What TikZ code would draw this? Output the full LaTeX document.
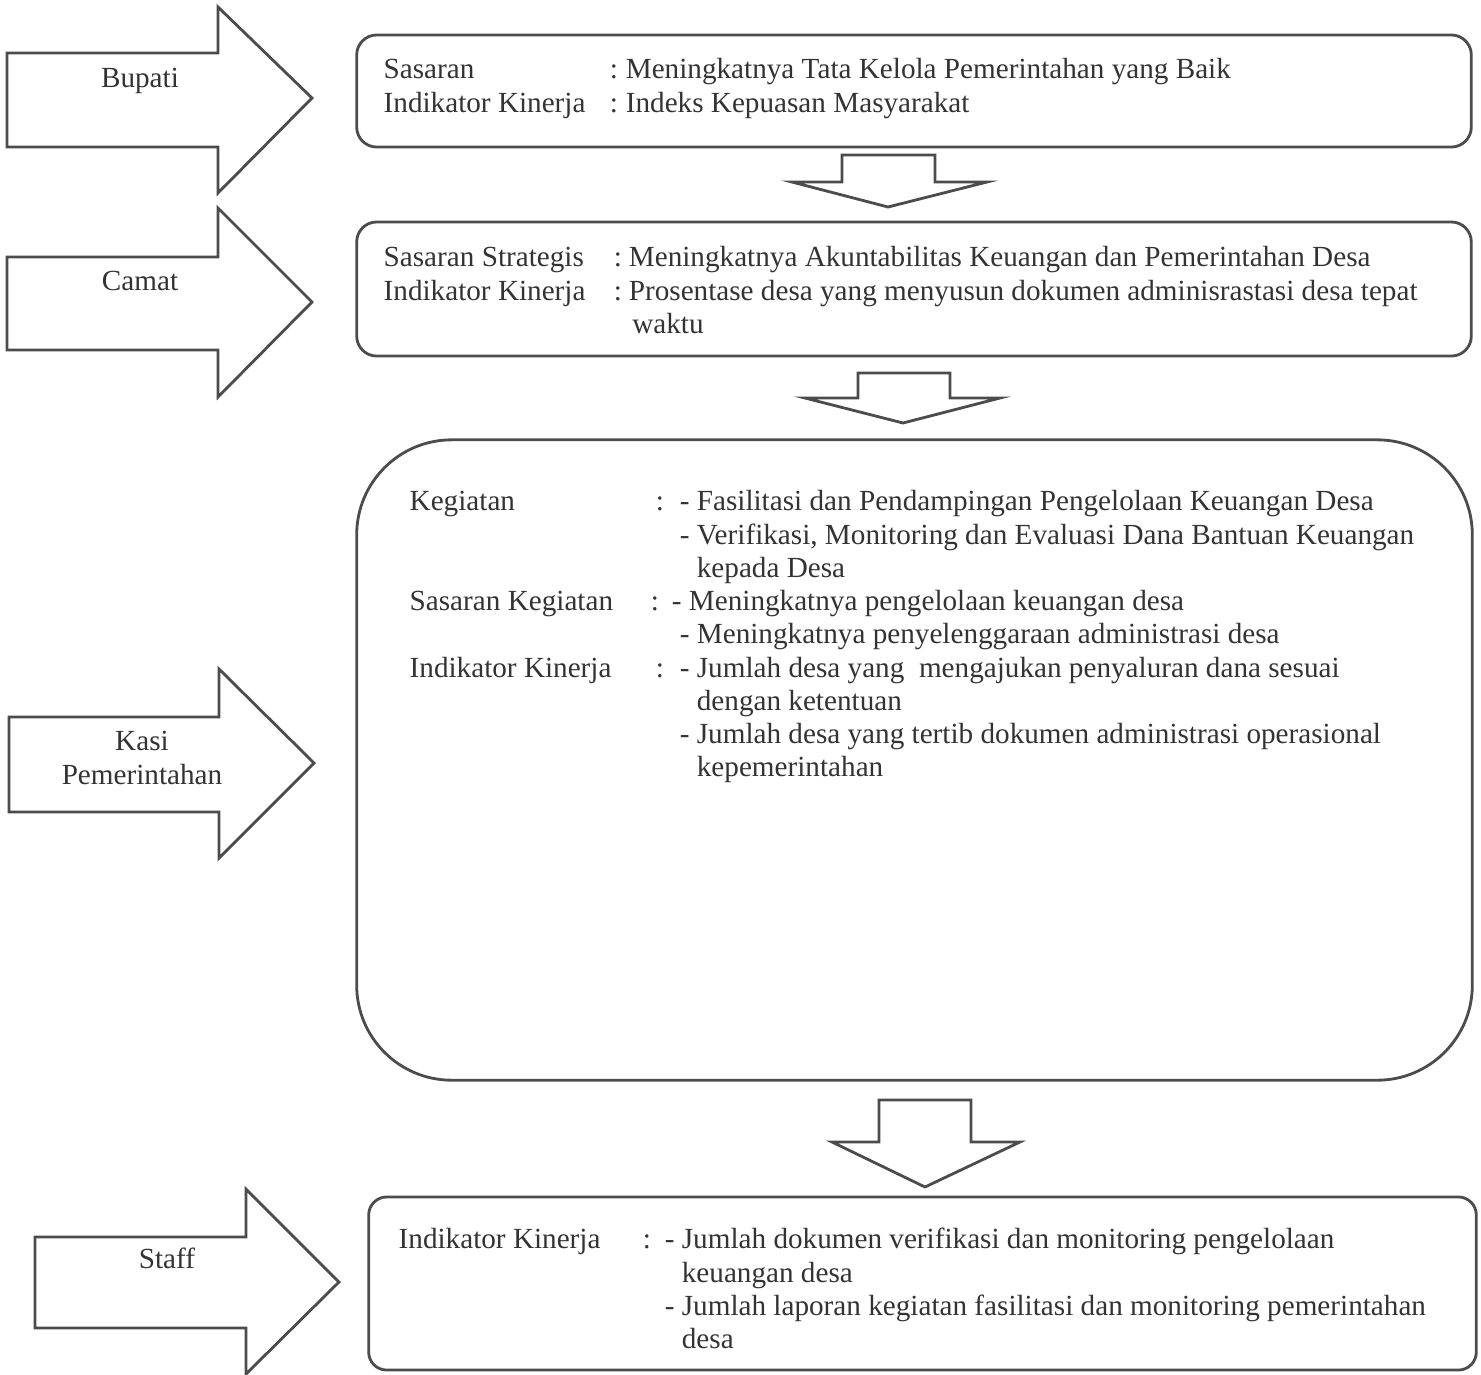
\documentclass[tikz,border=0pt]{standalone}
\usepackage{fontspec}
\setmainfont{Liberation Serif}
\usepackage{array}

\begin{document}
\begin{tikzpicture}[x=0.01cm, y=-0.01cm,
  box/.style={draw=black!70, line width=0.8pt, inner sep=0pt},
  blk/.style={draw=black!70, line width=0.8pt, line join=miter},
  txt/.style={text=black!80, inner sep=0pt, font=\fontsize{8.3}{9.45}\selectfont}]
  \useasboundingbox (0,0) rectangle (1481,1375);

  % boxes
  \node (box1) [box, rounded corners=0.2cm, minimum width=11.14cm, minimum height=1.12cm] at (914,91) {};
  \node (box2) [box, rounded corners=0.2cm, minimum width=11.14cm, minimum height=1.34cm] at (914,289) {};
  \node (box3) [box, rounded corners=0.95cm, minimum width=11.15cm, minimum height=6.40cm] at (914.5,760) {};
  \node (box4) [box, rounded corners=0.18cm, minimum width=11.07cm, minimum height=1.73cm] at (922.5,1283.5) {};

  % big arrows on the left
  \draw [blk] (7,53) -- (218,53) -- (218,7) -- (312,98) -- (218,193) -- (218,147) -- (7,147) -- cycle;
  \draw [blk] (7,257) -- (218,257) -- (218,208) -- (312,302) -- (218,397) -- (218,350) -- (7,350) -- cycle;
  \draw [blk] (9,717) -- (219,717) -- (219,669) -- (314,763) -- (219,858) -- (219,812) -- (9,812) -- cycle;
  \draw [blk] (35,1237) -- (246,1237) -- (246,1189) -- (339,1282) -- (246,1374) -- (246,1328) -- (35,1328) -- cycle;

  % arrows between the boxes
  \draw [blk] (842,155) -- (935,155) -- (935,182) -- (987,182) -- (888,207) -- (792,182) -- (842,182) -- cycle;
  \draw [blk] (858,373) -- (950,373) -- (950,398) -- (1000,398) -- (903,423) -- (805,398) -- (858,398) -- cycle;
  \draw [blk] (879,1100) -- (971,1100) -- (971,1142) -- (1020,1142) -- (925,1187) -- (832,1142) -- (879,1142) -- cycle;

  % labels in the arrows
  \node (bupati) [txt, anchor=base] at (140,87) {Bupati};
  \node (camat) [txt, anchor=base] at (140,290) {Camat};
  \node (kasi) [txt, align=center, anchor=north] at (142,727) {\strut Kasi\\Pemerintahan};
  \node (staff) [txt, anchor=base] at (167,1268) {Staff};

  % texts in the boxes
  \node (text1) [txt, anchor=north west] at (383,55) {%
    \begin{tabular}[t]{@{}p{2.26cm}@{}p{0.16cm}@{}l@{}}
      Sasaran & : & Meningkatnya Tata Kelola Pemerintahan yang Baik\\
      Indikator Kinerja & : & Indeks Kepuasan Masyarakat
    \end{tabular}};
  \node (text2) [txt, anchor=north west] at (383,243) {%
    \begin{tabular}[t]{@{}p{2.30cm}@{}p{0.15cm}@{}l@{}}
      Sasaran Strategis & : & Meningkatnya Akuntabilitas Keuangan dan Pemerintahan Desa\\
      Indikator Kinerja & : & Prosentase desa yang menyusun dokumen adminisrastasi desa tepat\\
       & & \hspace{1pt}waktu
    \end{tabular}};
  \node (text3) [txt, anchor=north west] at (409,487) {%
    \begin{tabular}[t]{@{}p{2.46cm}@{}p{0.24cm}@{}l@{}}
      Kegiatan & : & - Fasilitasi dan Pendampingan Pengelolaan Keuangan Desa\\
       & & - Verifikasi, Monitoring dan Evaluasi Dana Bantuan Keuangan\\
       & & \phantom{-\ }kepada Desa\\
      Sasaran Kegiatan & \hspace{-0.05cm}: & \hspace{-0.08cm}- Meningkatnya pengelolaan keuangan desa\\
       & & - Meningkatnya penyelenggaraan administrasi desa\\
      Indikator Kinerja & : & - Jumlah desa yang\ \ mengajukan penyaluran dana sesuai\\
       & & \phantom{-\ }dengan ketentuan\\
       & & - Jumlah desa yang tertib dokumen administrasi operasional\\
       & & \phantom{-\ }kepemerintahan
    \end{tabular}};
  \node (text4) [txt, anchor=north west] at (398,1225) {%
    \begin{tabular}[t]{@{}p{2.44cm}@{}p{0.22cm}@{}l@{}}
      Indikator Kinerja & : & - Jumlah dokumen verifikasi dan monitoring pengelolaan\\
       & & \phantom{-\ }keuangan desa\\
       & & - Jumlah laporan kegiatan fasilitasi dan monitoring pemerintahan\\
       & & \phantom{-\ }desa
    \end{tabular}};
\end{tikzpicture}
\end{document}
